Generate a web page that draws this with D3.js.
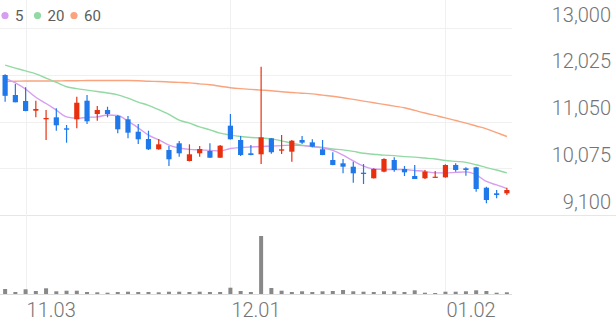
<!DOCTYPE html>
<meta charset="utf-8">
<title>Candle Chart</title>
<style>
    body {
        margin: 0;
        background: #fff;
        font-family: Roboto, "Noto Sans", sans-serif;
    }

    .grid line {
        stroke: #f0f0f0;
        stroke-width: 1;
        shape-rendering: crispEdges;
    }

    .ylab, .xlab {
        font-size: 20px;
        font-weight: 300;
        fill: #747474;
    }

    .legend text {
        font-size: 15px;
        fill: #5c5c5c;
    }
</style>

<body>
    <div id="chart"></div>
    <script src="https://d3js.org/d3.v7.min.js"></script>

    <script>
        // trading days shown
        var dates = ["10.30", "10.31",
            "11.03", "11.04", "11.05", "11.06", "11.07", "11.10", "11.11", "11.12", "11.13", "11.14",
            "11.17", "11.18", "11.19", "11.20", "11.21", "11.24", "11.25", "11.26", "11.27", "11.28",
            "12.01", "12.02", "12.03", "12.04", "12.05", "12.08", "12.09", "12.10", "12.11", "12.12",
            "12.15", "12.16", "12.17", "12.18", "12.19", "12.22", "12.23", "12.24", "12.26", "12.29", "12.30",
            "01.02", "01.05", "01.06", "01.07", "01.08", "01.09", "01.12"];

        var open = [12025, 11607, 11482, 11279, 11099, 11141, 10911, 11099, 11488, 11210,
            11294, 11168, 11099, 10840, 10688, 10473, 10458, 10598, 10228, 10389,
            10437, 10297, 10966, 10667, 10389, 10368, 10702, 10444, 10423, 10667,
            10618, 10473, 10249, 10180, 10109, 9984, 9867, 10005, 10249, 10061,
            9915, 9867, 9880, 9887, 10145, 10075, 10096, 9670, 9553, 9553];
        var high = [12040, 11837, 11768, 11488, 11294, 11329, 10980, 11572, 11607, 11377,
            11363, 11190, 11168, 11001, 10861, 10688, 10542, 10646, 10577, 10542,
            10598, 10563, 11210, 10750, 10563, 12199, 10710, 10771, 10667, 10750,
            10681, 10667, 10410, 10270, 10214, 10165, 10075, 10284, 10305, 10124,
            10145, 10040, 10019, 10159, 10180, 10096, 10110, 9692, 9622, 9670];
        var low = [11465, 11455, 11270, 11141, 10667, 10861, 10610, 10911, 11001, 11070,
            11141, 10807, 10702, 10583, 10458, 10465, 10124, 10318, 10220, 10318,
            10290, 10297, 10675, 10332, 10350, 10165, 10380, 10374, 10214, 10583,
            10514, 10350, 10140, 9971, 9775, 9748, 9865, 9991, 10005, 9915,
            9850, 9852, 9880, 9880, 10005, 9921, 9587, 9344, 9449, 9518];
        var close = [11590, 11455, 11273, 11315, 11127, 10974, 10882, 11446, 11058, 11294,
            11210, 10890, 10820, 10682, 10473, 10577, 10264, 10389, 10368, 10479,
            10297, 10548, 10682, 10353, 10353, 10723, 10411, 10472, 10652, 10611,
            10527, 10353, 10145, 10109, 9971, 9957, 10061, 10270, 10040, 9992,
            9852, 10005, 9900, 10145, 10040, 10040, 9643, 9413, 9518, 9622];
        var volume = [250000, 100000, 235000, 150000, 285000, 135000, 165000, 165000, 100000, 85000,
            65000, 100000, 115000, 100000, 100000, 85000, 115000, 115000, 100000, 115000,
            100000, 100000, 315000, 150000, 100000, 2900000, 300000, 165000, 100000, 135000,
            100000, 135000, 150000, 200000, 135000, 115000, 100000, 135000, 135000, 100000,
            185000, 65000, 50000, 115000, 115000, 135000, 185000, 150000, 65000, 85000];

        // moving averages as drawn
        var ma5 = [11960, 11860, 11730, 11560, 11430, 11290, 11150, 11120, 11140, 11150,
            11190, 11180, 11060, 10920, 10770, 10670, 10560, 10500, 10470, 10460,
            10450, 10440, 10490, 10510, 10520, 10530, 10540, 10550, 10560, 10550,
            10530, 10500, 10450, 10350, 10230, 10120, 10060, 10050, 10050, 10050,
            10030, 10010, 9980, 9980, 9990, 10000, 9940, 9800, 9730, 9650];
        var ma20 = [12230, 12170, 12110, 12050, 11960, 11870, 11780, 11740, 11710, 11680,
            11650, 11610, 11540, 11460, 11390, 11300, 11200, 11080, 11020, 10940,
            10880, 10810, 10770, 10740, 10720, 10710, 10690, 10650, 10600, 10560,
            10530, 10510, 10480, 10460, 10430, 10390, 10370, 10350, 10340, 10320,
            10310, 10290, 10270, 10240, 10220, 10200, 10150, 10090, 10040, 9980];
        var ma60 = [11890, 11895, 11900, 11900, 11900, 11900, 11905, 11905, 11910, 11910,
            11910, 11910, 11910, 11905, 11895, 11890, 11880, 11870, 11860, 11840,
            11820, 11790, 11760, 11740, 11725, 11710, 11695, 11675, 11660, 11645,
            11630, 11605, 11580, 11550, 11515, 11480, 11445, 11410, 11375, 11340,
            11285, 11230, 11180, 11130, 11075, 11020, 10960, 10900, 10820, 10740];

        var yTicks = [13000, 12025, 11050, 10075, 9100];
        var xTicks = ["11.03", "12.01", "01.02"];

        var width = 616,
            height = 321,
            plotRight = 512,
            priceTop = 28.33,
            priceBottom = 215,
            volBottom = 294;

        var colorUp = "#e8300f",
            colorDown = "#1f79ea",
            colorVol = "#888",
            maColors = ["#d69df0", "#93d9a3", "#f9a47e"];

        var svg = d3.select("#chart")
            .append("svg")
            .attr("width", width)
            .attr("height", height);

        var x = d3.scaleBand().domain(dates).range([0, plotRight]).padding(0);
        var y = d3.scaleLinear().domain([9100, 13000]).range([priceBottom, priceTop]);
        var yVol = d3.scaleLinear().domain([0, 3625000]).range([volBottom, volBottom - 72.5]);
        var cx = d => x(d) + x.bandwidth() / 2;

        // horizontal grid
        var grid = svg.append("g").attr("class", "grid");
        grid.selectAll(".hg")
            .data(yTicks)
            .enter().append("line")
            .attr("x1", 0)
            .attr("x2", d => d === 9100 ? width : plotRight)
            .attr("y1", d => Math.round(y(d)) + 0.5)
            .attr("y2", d => Math.round(y(d)) + 0.5)
            .style("stroke", d => d === 9100 ? "#e6e6e6" : "#f0f0f0");

        // vertical grid
        grid.selectAll(".vg")
            .data(xTicks)
            .enter().append("line")
            .attr("x1", d => Math.round(cx(d)) + 0.5)
            .attr("x2", d => Math.round(cx(d)) + 0.5)
            .attr("y1", 0)
            .attr("y2", volBottom);

        // bottom axis line
        svg.append("line")
            .attr("x1", 0).attr("x2", plotRight)
            .attr("y1", volBottom + 0.5).attr("y2", volBottom + 0.5)
            .style("stroke", "#ddd")
            .style("shape-rendering", "crispEdges");

        // y labels
        svg.selectAll(".ylab")
            .data(yTicks)
            .enter().append("text")
            .attr("class", "ylab")
            .attr("x", 611)
            .attr("y", d => y(d) - 6.5)
            .attr("text-anchor", "end")
            .text(d => d3.format(",")(d));

        // x labels
        svg.selectAll(".xlab")
            .data(xTicks)
            .enter().append("text")
            .attr("class", "xlab")
            .attr("x", d => cx(d) + 1)
            .attr("y", 317)
            .text(d => d);

        // volume bars
        svg.selectAll(".vol")
            .data(dates)
            .enter().append("rect")
            .attr("class", "vol")
            .attr("x", d => cx(d) - 2)
            .attr("width", 4)
            .attr("y", (d, i) => yVol(volume[i]))
            .attr("height", (d, i) => volBottom - yVol(volume[i]))
            .style("fill", colorVol);

        // moving averages
        [ma60, ma20, ma5].forEach(function(ma, k) {
            var line = d3.line()
                .x((d, i) => cx(dates[i]))
                .y(d => y(d))
                .curve(d3.curveMonotoneX);
            svg.append("path")
                .datum(ma)
                .attr("d", line)
                .style("fill", "none")
                .style("stroke", maColors[2 - k])
                .style("stroke-width", 1.4);
        });

        // candles
        var candle = svg.selectAll(".candle")
            .data(dates)
            .enter().append("g")
            .attr("class", "candle");

        candle.append("line")
            .attr("x1", d => cx(d))
            .attr("x2", d => cx(d))
            .attr("y1", (d, i) => y(high[i]))
            .attr("y2", (d, i) => y(low[i]))
            .style("stroke", (d, i) => close[i] >= open[i] ? colorUp : colorDown)
            .style("stroke-width", 1.2);

        candle.append("rect")
            .attr("x", d => cx(d) - 2.6)
            .attr("width", 5.2)
            .attr("y", (d, i) => y(Math.max(open[i], close[i])))
            .attr("height", (d, i) => Math.max(1.2, Math.abs(y(open[i]) - y(close[i]))))
            .style("fill", (d, i) => close[i] >= open[i] ? colorUp : colorDown);

        // legend
        var legend = svg.append("g").attr("class", "legend");
        var legendItems = ["5", "20", "60"];
        var legendX = [5, 37.5, 74];
        legendItems.forEach(function(t, k) {
            legend.append("circle")
                .attr("cx", legendX[k])
                .attr("cy", 15.5)
                .attr("r", 3.6)
                .style("fill", maColors[k]);
            legend.append("text")
                .attr("x", legendX[k] + 10)
                .attr("y", 21)
                .text(t);
        });
    </script>
</body>
